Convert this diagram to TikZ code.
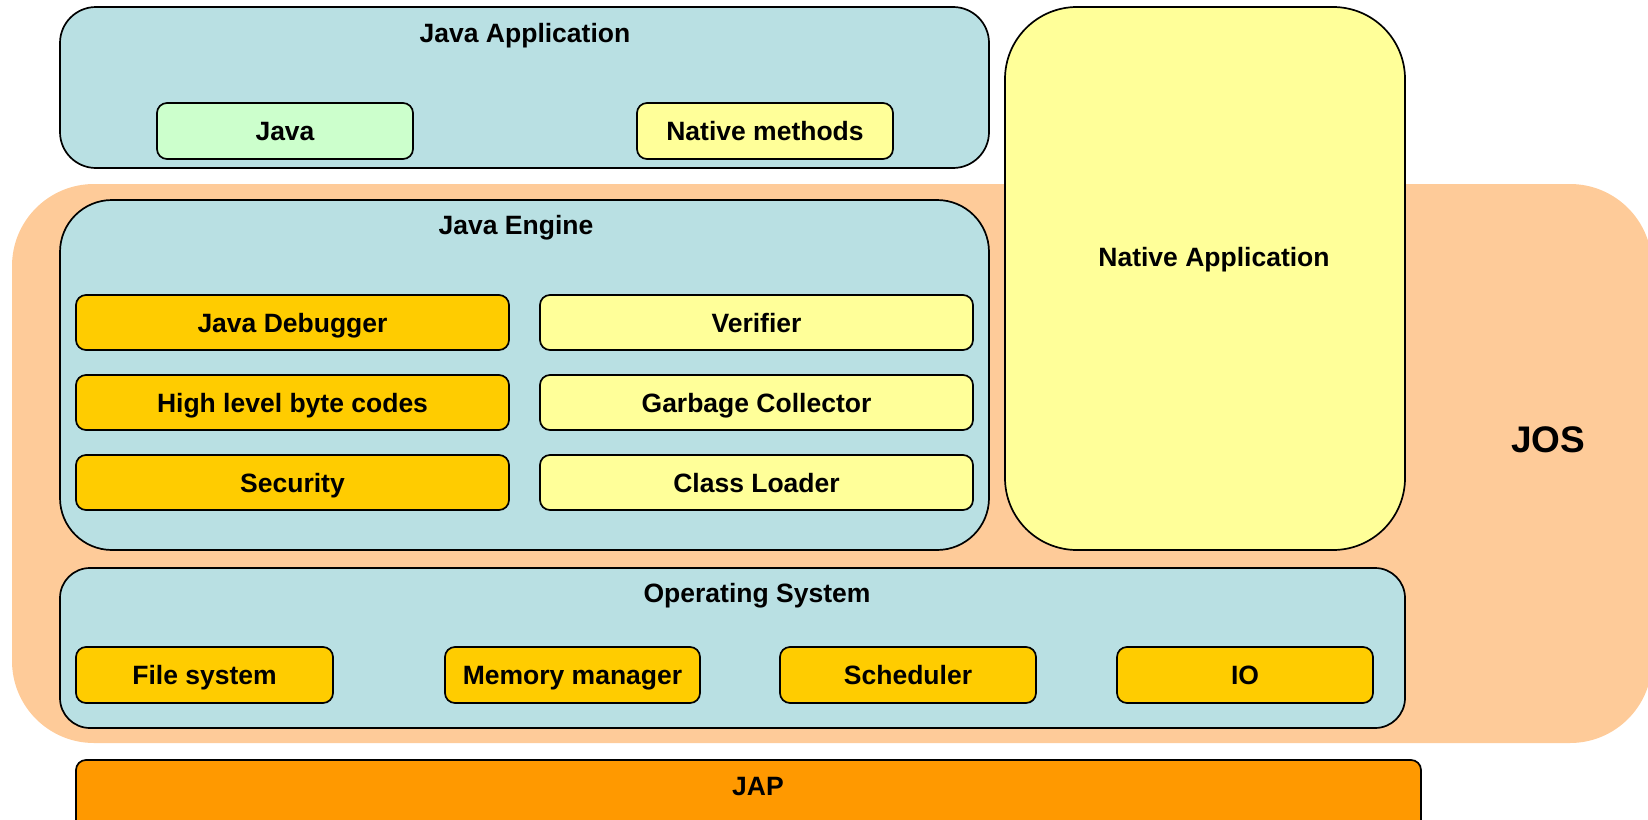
\documentclass[tikz,border=0pt]{standalone}
\usepackage{fontspec}
\setmainfont{Liberation Sans}
\definecolor{cBlue}{RGB}{185,224,227}
\definecolor{cGreen}{RGB}{204,255,204}
\definecolor{cPale}{RGB}{255,255,153}
\definecolor{cGold}{RGB}{255,204,0}
\definecolor{cPeach}{RGB}{254,203,153}
\definecolor{cOrange}{RGB}{255,153,0}
\begin{document}
\begin{tikzpicture}[x=1pt,y=-1pt,
  txt/.style={inner sep=0pt, text height=19pt, text depth=0pt, font=\bfseries\fontsize{26.5}{30}\selectfont},
  bigtxt/.style={inner sep=0pt, text height=26.5pt, text depth=0pt, font=\bfseries\fontsize{37}{42}\selectfont},
  frame/.style={draw=black, line width=1.7pt, inner sep=0pt, rectangle},
  container/.style={frame, fill=cBlue},
  sub/.style={frame, txt, rounded corners=10pt, minimum height=56pt},
  goldbox/.style={sub, fill=cGold},
  palebox/.style={sub, fill=cPale},
  greenbox/.style={sub, fill=cGreen}]
\useasboundingbox (0,0) rectangle (1648,819);
% JOS background
\node[rectangle, fill=cPeach, rounded corners=82pt, inner sep=0pt,
      minimum width=1640pt, minimum height=559pt] (jos) at (832,463.5) {};
\node[bigtxt] (joslabel) at (1548,439) {JOS};
% Java Application
\node[container, rounded corners=36pt, minimum width=929pt, minimum height=161pt] (japp) at (524.5,87.5) {};
\node[txt] (japptitle) at (525,33) {Java Application};
\node[greenbox, minimum width=256pt] (java) at (285,131) {Java};
\node[palebox, minimum width=256pt] (natm) at (765,131) {Native methods};
% Native Application
\node[frame, fill=cPale, rounded corners=72pt, minimum width=400pt, minimum height=543pt] (napp) at (1205,278.5) {};
\node[txt] (napplabel) at (1214,257) {Native Application};
% Java Engine
\node[container, rounded corners=52pt, minimum width=929pt, minimum height=350pt] (jeng) at (524.5,375) {};
\node[txt] (jengtitle) at (516,225) {Java Engine};
\node[goldbox, minimum width=433pt, minimum height=55pt] (dbg) at (292.5,322.5) {Java Debugger};
\node[goldbox, minimum width=433pt, minimum height=55pt] (hlbc) at (292.5,402.5) {High level byte codes};
\node[goldbox, minimum width=433pt, minimum height=55pt] (sec) at (292.5,482.5) {Security};
\node[palebox, minimum width=433pt, minimum height=55pt] (ver) at (756.5,322.5) {Verifier};
\node[palebox, minimum width=433pt, minimum height=55pt] (gc) at (756.5,402.5) {Garbage Collector};
\node[palebox, minimum width=433pt, minimum height=55pt] (cl) at (756.5,482.5) {Class Loader};
% Operating System
\node[container, rounded corners=30pt, minimum width=1345pt, minimum height=160pt] (os) at (732.5,648) {};
\node[txt] (ostitle) at (757,593) {Operating System};
\node[goldbox, minimum width=257pt] (fs) at (204.5,675) {File system};
\node[goldbox, minimum width=255pt] (mm) at (572.5,675) {Memory manager};
\node[goldbox, minimum width=256pt] (sch) at (908,675) {Scheduler};
\node[goldbox, minimum width=256pt] (io) at (1245,675) {IO};
% JAP
\node[frame, fill=cOrange, rounded corners=10pt, minimum width=1345pt, minimum height=70pt] (jap) at (748.5,795) {};
\node[txt] (japlabel) at (758,786) {JAP};
\end{tikzpicture}
\end{document}
